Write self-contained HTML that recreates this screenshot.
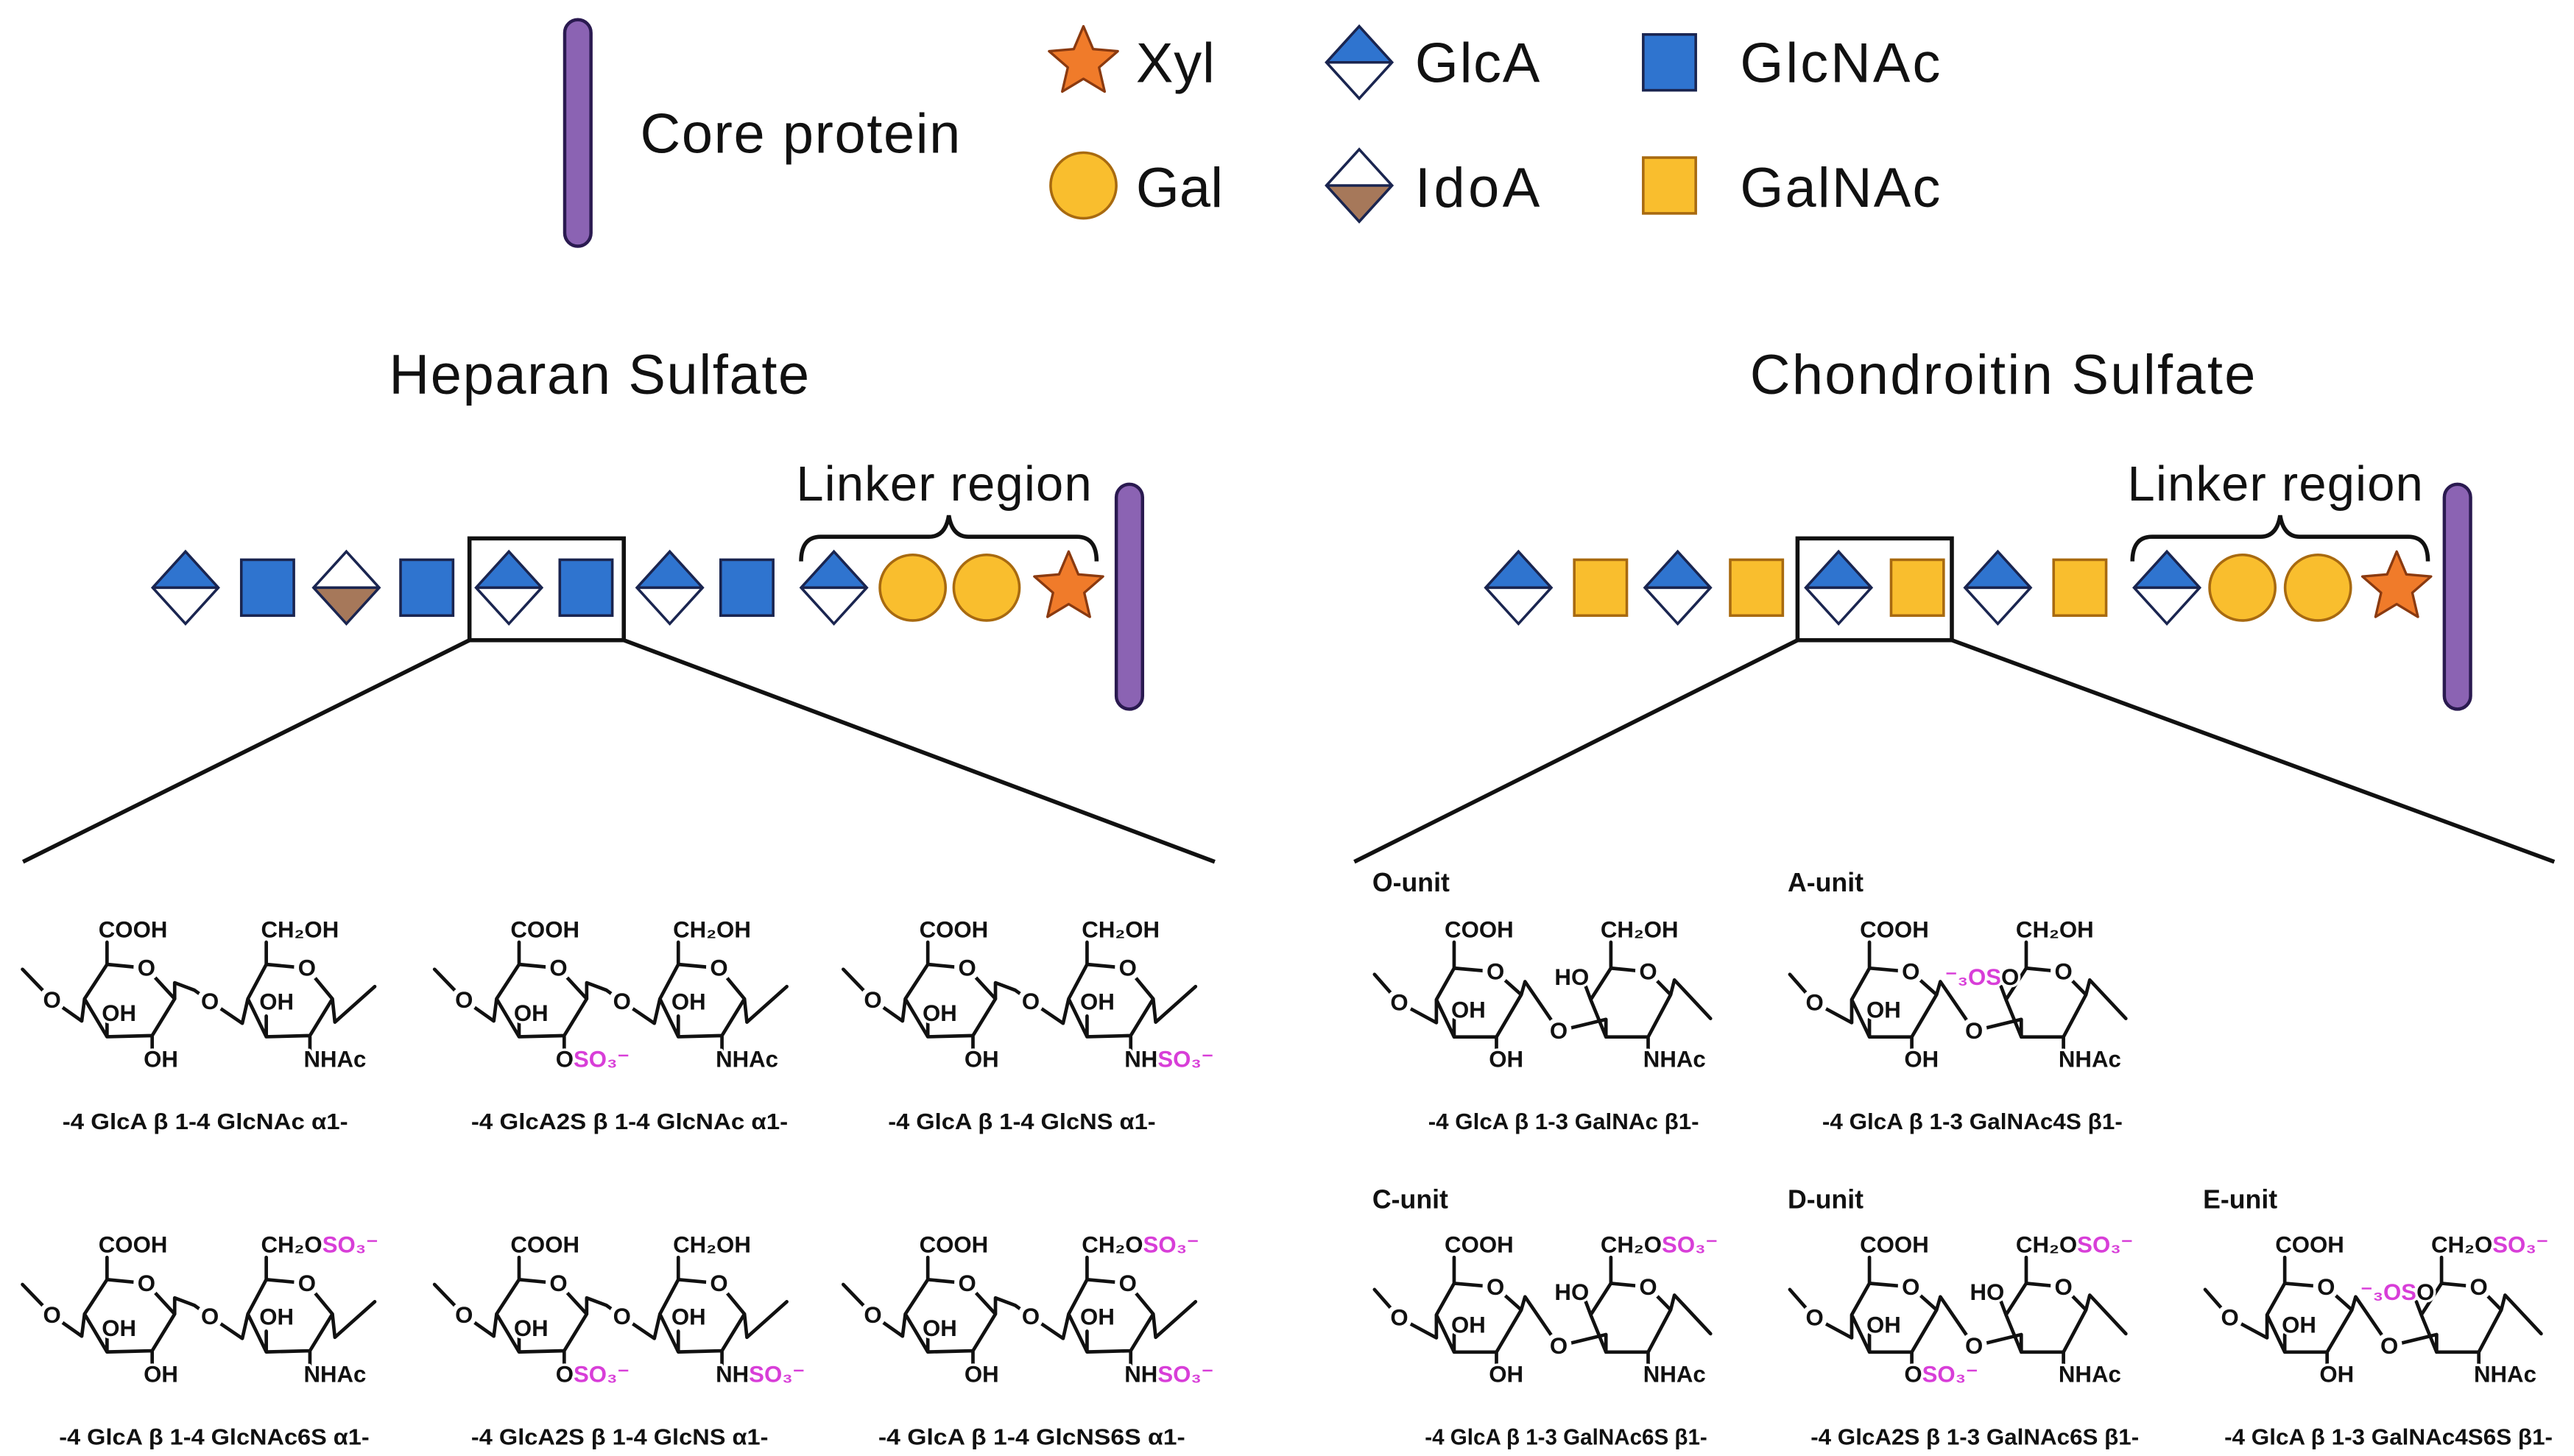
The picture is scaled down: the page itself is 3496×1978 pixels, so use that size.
<!DOCTYPE html>
<html><head><meta charset="utf-8"><style>
html,body{margin:0;padding:0;background:#fff;}
svg{display:block;}
.t{font-family:"Liberation Sans",Arial,sans-serif;font-weight:bold;font-size:14px;fill:#111;paint-order:stroke;stroke:#fff;stroke-width:3px;stroke-linejoin:round;}
.c{text-anchor:middle;dominant-baseline:central;stroke-width:6px;}
.m{fill:#d83ed8;}
.f{font-family:"Liberation Sans",Arial,sans-serif;font-weight:bold;font-size:13.5px;fill:#111;}
.u{font-family:"Liberation Sans",Arial,sans-serif;font-weight:bold;font-size:16px;fill:#111;}
.L{font-family:"Liberation Sans",Arial,sans-serif;fill:#111;}
.sk{fill:none;stroke:#111;stroke-width:2.1;stroke-linejoin:round;stroke-linecap:round;}
</style></head><body>
<svg width="3496" height="1978" viewBox="0 0 1568 887" preserveAspectRatio="none" xmlns="http://www.w3.org/2000/svg">
<defs>
<path id="star" d="M0,-22 L5.88,-8.09 L20.92,-6.8 L9.51,3.09 L12.93,17.8 L0,10 L-12.93,17.8 L-9.51,3.09 L-20.92,-6.8 L-5.88,-8.09 Z" fill="#f07b2a" stroke="#8a3a10" stroke-width="1.5" stroke-linejoin="round"/>
<g id="glca"><polygon points="0,-22 20,0 -20,0" fill="#2f74cf"/><polygon points="20,0 0,22 -20,0" fill="#fff"/><polygon points="0,-22 20,0 0,22 -20,0" fill="none" stroke="#1a2550" stroke-width="1.6"/><line x1="-20" y1="0" x2="20" y2="0" stroke="#1a2550" stroke-width="1.6"/></g>
<g id="idoa"><polygon points="0,-22 20,0 -20,0" fill="#fff"/><polygon points="20,0 0,22 -20,0" fill="#a6785a"/><polygon points="0,-22 20,0 0,22 -20,0" fill="none" stroke="#1a2550" stroke-width="1.6"/><line x1="-20" y1="0" x2="20" y2="0" stroke="#1a2550" stroke-width="1.6"/></g>
<rect id="bsq" x="-16" y="-17" width="32" height="34" fill="#2f74cf" stroke="#1a2550" stroke-width="1.6"/>
<rect id="ysq" x="-16" y="-17" width="32" height="34" fill="#f9be2e" stroke="#a86a10" stroke-width="1.6"/>
<circle id="circ" r="20" fill="#f9be2e" stroke="#a86a10" stroke-width="1.6"/>
<path id="hs" class="sk" d="M-0.3,19.5 L17.7,38.2 L35.8,51 L37.5,37.5 M37.5,37.5 L51.2,16.5 L75.2,18.8 L92.4,37.5 L78.7,59.9 L51.2,60.6 Z M51.2,16.5 L51.2,3 M92.4,37.5 L92.4,27.7 L104.4,32.2 L113.9,39 L133.6,52.4 L137,37.5 M137,37.5 L148.2,16.5 L173,18.8 L188.5,37.5 L174.8,59.9 L148.2,60.6 Z M148.2,16.5 L148.2,3 M188.5,37.5 L190,51.7 L214.3,30 M78.7,59.9 L78.7,70 M174.8,59.9 L174.8,70 M51.2,60.6 L51.2,50 M148.2,60.6 L148.2,48"/>
<path id="cs" class="sk" d="M1.3,22.6 L16.4,39.8 L39,52 L39,38 M39,38 L49.8,18.8 L75,21 L90.7,35 L75.6,60.7 L49.8,60.7 Z M49.8,18.8 V3 M90.7,35 L93,27 L113.5,57 L142.3,50 L142.3,60.7 M133,38 L145.3,18.8 L168,21 L181.7,35 L168,60.7 L142.3,60.7 L133,38 Z M133,38 L130,30 M145.3,18.8 V3 M181.7,35 L184,26 L206,49.5 M75.6,60.7 V70 M168,60.7 V70 M49.8,60.7 V50"/>
</defs>

<!-- Legend -->
<rect x="344" y="12" width="16" height="138" rx="8" fill="#8b63b3" stroke="#2a1a50" stroke-width="2"/>
<text class="L" x="390" y="93" font-size="34" textLength="195">Core protein</text>
<use href="#star" transform="translate(660,38)"/>
<text class="L" x="692" y="50" font-size="34" textLength="48">Xyl</text>
<use href="#circ" transform="translate(660,113)"/>
<text class="L" x="692" y="126" font-size="34" textLength="53">Gal</text>
<use href="#glca" transform="translate(828,38)"/>
<text class="L" x="862" y="50" font-size="34" textLength="76">GlcA</text>
<use href="#idoa" transform="translate(828,113)"/>
<text class="L" x="862" y="126" font-size="34" textLength="76">IdoA</text>
<use href="#bsq" transform="translate(1017,38)"/>
<text class="L" x="1060" y="50" font-size="34" textLength="122">GlcNAc</text>
<use href="#ysq" transform="translate(1017,113)"/>
<text class="L" x="1060" y="126" font-size="34" textLength="122">GalNAc</text>

<!-- Titles -->
<text class="L" x="237" y="240" font-size="34" textLength="256">Heparan Sulfate</text>
<text class="L" x="1066" y="240" font-size="34" textLength="308">Chondroitin Sulfate</text>

<!-- HS chain -->
<text class="L" x="485" y="305" font-size="30" textLength="180">Linker region</text>
<path d="M488,342 Q488,327 500,327 L566,327 Q576,327 578,314 Q580,327 590,327 L656,327 Q668,327 668,342" fill="none" stroke="#111" stroke-width="2.5"/>
<use href="#glca" transform="translate(113,358)"/>
<use href="#bsq" transform="translate(163,358)"/>
<use href="#idoa" transform="translate(211,358)"/>
<use href="#bsq" transform="translate(260,358)"/>
<use href="#glca" transform="translate(310,358)"/>
<use href="#bsq" transform="translate(357,358)"/>
<use href="#glca" transform="translate(408,358)"/>
<use href="#bsq" transform="translate(455,358)"/>
<use href="#glca" transform="translate(508,358)"/>
<use href="#circ" transform="translate(556,358)"/>
<use href="#circ" transform="translate(601,358)"/>
<use href="#star" transform="translate(651,358)"/>
<rect x="680" y="295" width="16" height="137" rx="8" fill="#8b63b3" stroke="#2a1a50" stroke-width="2"/>
<rect x="286" y="328" width="94" height="62" fill="none" stroke="#111" stroke-width="2.5"/>
<path d="M286,390 L14,525 M380,390 L740,525" stroke="#111" stroke-width="2.5" fill="none"/>

<!-- CS chain -->
<text class="L" x="1296" y="305" font-size="30" textLength="180">Linker region</text>
<path d="M1299,342 Q1299,327 1311,327 L1377,327 Q1387,327 1389,314 Q1391,327 1401,327 L1467,327 Q1479,327 1479,342" fill="none" stroke="#111" stroke-width="2.5"/>
<use href="#glca" transform="translate(925,358)"/>
<use href="#ysq" transform="translate(975,358)"/>
<use href="#glca" transform="translate(1022,358)"/>
<use href="#ysq" transform="translate(1070,358)"/>
<use href="#glca" transform="translate(1120,358)"/>
<use href="#ysq" transform="translate(1168,358)"/>
<use href="#glca" transform="translate(1217,358)"/>
<use href="#ysq" transform="translate(1267,358)"/>
<use href="#glca" transform="translate(1320,358)"/>
<use href="#circ" transform="translate(1366,358)"/>
<use href="#circ" transform="translate(1412,358)"/>
<use href="#star" transform="translate(1460,358)"/>
<rect x="1489" y="295" width="16" height="137" rx="8" fill="#8b63b3" stroke="#2a1a50" stroke-width="2"/>
<rect x="1095" y="328" width="94" height="62" fill="none" stroke="#111" stroke-width="2.5"/>
<path d="M1095,390 L825,525 M1189,390 L1556,525" stroke="#111" stroke-width="2.5" fill="none"/>

<!-- HS structures -->
<g transform="translate(14,571)"><use href="#hs"/>
<text class="t c" x="17.7" y="38.2">O</text><text class="t c" x="75.2" y="18.8">O</text><text class="t c" x="113.9" y="39">O</text><text class="t c" x="173" y="18.8">O</text>
<text class="t" x="46" y="0">COOH</text><text class="t" x="145" y="0">CH₂OH</text>
<text class="t" x="48" y="51">OH</text><text class="t" x="144" y="44">OH</text>
<text class="t" x="73.5" y="79">OH</text><text class="t" x="171" y="79">NHAc</text></g>

<g transform="translate(265,571)"><use href="#hs"/>
<text class="t c" x="17.7" y="38.2">O</text><text class="t c" x="75.2" y="18.8">O</text><text class="t c" x="113.9" y="39">O</text><text class="t c" x="173" y="18.8">O</text>
<text class="t" x="46" y="0">COOH</text><text class="t" x="145" y="0">CH₂OH</text>
<text class="t" x="48" y="51">OH</text><text class="t" x="144" y="44">OH</text>
<text class="t" x="73.5" y="79">O<tspan class="m">SO₃⁻</tspan></text><text class="t" x="171" y="79">NHAc</text></g>

<g transform="translate(514,571)"><use href="#hs"/>
<text class="t c" x="17.7" y="38.2">O</text><text class="t c" x="75.2" y="18.8">O</text><text class="t c" x="113.9" y="39">O</text><text class="t c" x="173" y="18.8">O</text>
<text class="t" x="46" y="0">COOH</text><text class="t" x="145" y="0">CH₂OH</text>
<text class="t" x="48" y="51">OH</text><text class="t" x="144" y="44">OH</text>
<text class="t" x="73.5" y="79">OH</text><text class="t" x="171" y="79">NH<tspan class="m">SO₃⁻</tspan></text></g>

<g transform="translate(14,763)"><use href="#hs"/>
<text class="t c" x="17.7" y="38.2">O</text><text class="t c" x="75.2" y="18.8">O</text><text class="t c" x="113.9" y="39">O</text><text class="t c" x="173" y="18.8">O</text>
<text class="t" x="46" y="0">COOH</text><text class="t" x="145" y="0">CH₂O<tspan class="m">SO₃⁻</tspan></text>
<text class="t" x="48" y="51">OH</text><text class="t" x="144" y="44">OH</text>
<text class="t" x="73.5" y="79">OH</text><text class="t" x="171" y="79">NHAc</text></g>

<g transform="translate(265,763)"><use href="#hs"/>
<text class="t c" x="17.7" y="38.2">O</text><text class="t c" x="75.2" y="18.8">O</text><text class="t c" x="113.9" y="39">O</text><text class="t c" x="173" y="18.8">O</text>
<text class="t" x="46" y="0">COOH</text><text class="t" x="145" y="0">CH₂OH</text>
<text class="t" x="48" y="51">OH</text><text class="t" x="144" y="44">OH</text>
<text class="t" x="73.5" y="79">O<tspan class="m">SO₃⁻</tspan></text><text class="t" x="171" y="79">NH<tspan class="m">SO₃⁻</tspan></text></g>

<g transform="translate(514,763)"><use href="#hs"/>
<text class="t c" x="17.7" y="38.2">O</text><text class="t c" x="75.2" y="18.8">O</text><text class="t c" x="113.9" y="39">O</text><text class="t c" x="173" y="18.8">O</text>
<text class="t" x="46" y="0">COOH</text><text class="t" x="145" y="0">CH₂O<tspan class="m">SO₃⁻</tspan></text>
<text class="t" x="48" y="51">OH</text><text class="t" x="144" y="44">OH</text>
<text class="t" x="73.5" y="79">OH</text><text class="t" x="171" y="79">NH<tspan class="m">SO₃⁻</tspan></text></g>

<text class="f" x="38" y="688" textLength="174" lengthAdjust="spacingAndGlyphs">-4 GlcA β 1-4 GlcNAc α1-</text>
<text class="f" x="287" y="688" textLength="193" lengthAdjust="spacingAndGlyphs">-4 GlcA2S β 1-4 GlcNAc α1-</text>
<text class="f" x="541" y="688" textLength="163" lengthAdjust="spacingAndGlyphs">-4 GlcA β 1-4 GlcNS α1-</text>
<text class="f" x="36" y="880" textLength="189" lengthAdjust="spacingAndGlyphs">-4 GlcA β 1-4 GlcNAc6S α1-</text>
<text class="f" x="287" y="880" textLength="181" lengthAdjust="spacingAndGlyphs">-4 GlcA2S β 1-4 GlcNS α1-</text>
<text class="f" x="535" y="880" textLength="187" lengthAdjust="spacingAndGlyphs">-4 GlcA β 1-4 GlcNS6S α1-</text>

<!-- CS structures -->
<text class="u" x="836" y="543">O-unit</text>
<text class="u" x="1089" y="543">A-unit</text>
<text class="u" x="836" y="736">C-unit</text>
<text class="u" x="1089" y="736">D-unit</text>
<text class="u" x="1342" y="736">E-unit</text>

<g transform="translate(836,571)"><use href="#cs"/>
<text class="t c" x="16.4" y="39.8">O</text><text class="t c" x="75" y="21">O</text><text class="t c" x="113.5" y="57">O</text><text class="t c" x="168" y="21">O</text>
<text class="t" x="44" y="0">COOH</text><text class="t" x="139" y="0">CH₂OH</text>
<text class="t" x="111" y="29">HO</text><text class="t" x="48" y="49">OH</text>
<text class="t" x="71" y="79">OH</text><text class="t" x="165" y="79">NHAc</text></g>

<g transform="translate(1089,571)"><use href="#cs"/>
<text class="t c" x="16.4" y="39.8">O</text><text class="t c" x="75" y="21">O</text><text class="t c" x="113.5" y="57">O</text><text class="t c" x="168" y="21">O</text>
<text class="t" x="44" y="0">COOH</text><text class="t" x="139" y="0">CH₂OH</text>
<text class="t" x="96" y="29"><tspan class="m">⁻₃OS</tspan>O</text><text class="t" x="48" y="49">OH</text>
<text class="t" x="71" y="79">OH</text><text class="t" x="165" y="79">NHAc</text></g>

<g transform="translate(836,763)"><use href="#cs"/>
<text class="t c" x="16.4" y="39.8">O</text><text class="t c" x="75" y="21">O</text><text class="t c" x="113.5" y="57">O</text><text class="t c" x="168" y="21">O</text>
<text class="t" x="44" y="0">COOH</text><text class="t" x="139" y="0">CH₂O<tspan class="m">SO₃⁻</tspan></text>
<text class="t" x="111" y="29">HO</text><text class="t" x="48" y="49">OH</text>
<text class="t" x="71" y="79">OH</text><text class="t" x="165" y="79">NHAc</text></g>

<g transform="translate(1089,763)"><use href="#cs"/>
<text class="t c" x="16.4" y="39.8">O</text><text class="t c" x="75" y="21">O</text><text class="t c" x="113.5" y="57">O</text><text class="t c" x="168" y="21">O</text>
<text class="t" x="44" y="0">COOH</text><text class="t" x="139" y="0">CH₂O<tspan class="m">SO₃⁻</tspan></text>
<text class="t" x="111" y="29">HO</text><text class="t" x="48" y="49">OH</text>
<text class="t" x="71" y="79">O<tspan class="m">SO₃⁻</tspan></text><text class="t" x="165" y="79">NHAc</text></g>

<g transform="translate(1342,763)"><use href="#cs"/>
<text class="t c" x="16.4" y="39.8">O</text><text class="t c" x="75" y="21">O</text><text class="t c" x="113.5" y="57">O</text><text class="t c" x="168" y="21">O</text>
<text class="t" x="44" y="0">COOH</text><text class="t" x="139" y="0">CH₂O<tspan class="m">SO₃⁻</tspan></text>
<text class="t" x="96" y="29"><tspan class="m">⁻₃OS</tspan>O</text><text class="t" x="48" y="49">OH</text>
<text class="t" x="71" y="79">OH</text><text class="t" x="165" y="79">NHAc</text></g>

<text class="f" x="870" y="688" textLength="165" lengthAdjust="spacingAndGlyphs">-4 GlcA β 1-3 GalNAc β1-</text>
<text class="f" x="1110" y="688" textLength="183" lengthAdjust="spacingAndGlyphs">-4 GlcA β 1-3 GalNAc4S β1-</text>
<text class="f" x="868" y="880" textLength="172" lengthAdjust="spacingAndGlyphs">-4 GlcA β 1-3 GalNAc6S β1-</text>
<text class="f" x="1103" y="880" textLength="200" lengthAdjust="spacingAndGlyphs">-4 GlcA2S β 1-3 GalNAc6S β1-</text>
<text class="f" x="1355" y="880" textLength="200" lengthAdjust="spacingAndGlyphs">-4 GlcA β 1-3 GalNAc4S6S β1-</text>
</svg>
</body></html>
